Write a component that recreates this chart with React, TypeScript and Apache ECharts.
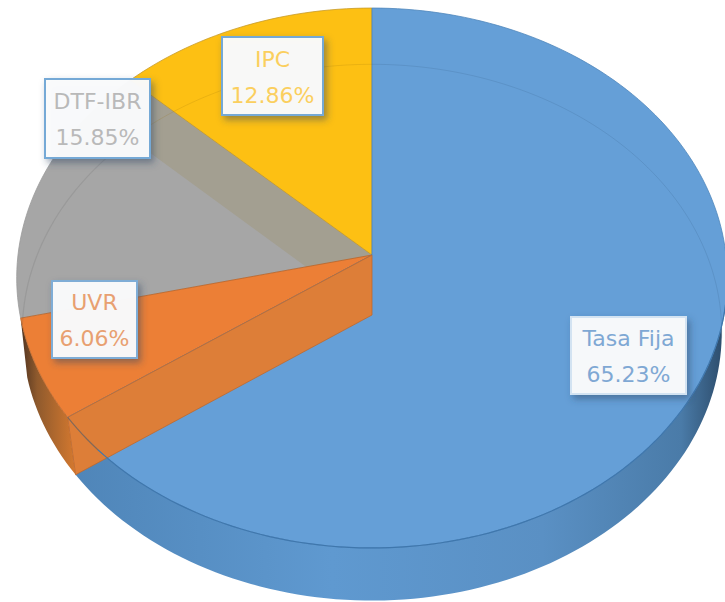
import React, { useEffect, useRef } from "react";
import * as echarts from "echarts";

const categories = ["Tasa Fija", "UVR", "DTF-IBR", "IPC"];
const shares = [65.23, 6.06, 15.85, 12.86];
const faceColors = ["#659fd7", "#ec7f36", "#a6a6a6", "#fdc013"];
const labelColors = ["#7fa8d4", "#e8a071", "#b9b9b9", "#fbcf5e"];
const borderColors = ["#d3e3f2", "#7fadd6", "#74a9d6", "#74a9d6"];
// label box x, y, width, height
const labelBoxes = [
  [571, 317, 115, 77],
  [52, 281, 85, 77],
  [45, 79, 105, 79],
  [222, 37, 101, 78],
];

const TOP = { cx: 372, cy: 255, a: 354, b: 268, k: 0.0852 };
const LOW = { cx: 372, cy: 315, a: 349, b: 267, k: 0.065 };
const total = shares.reduce((s, v) => s + v, 0);

function pt(deg: number, g: typeof TOP): number[] {
  const r = (deg * Math.PI) / 180;
  const u = Math.sin(r);
  const v = -Math.cos(r);
  const w = 1 - g.k * v;
  return [g.cx + (g.a * u) / w, g.cy + (g.b * v) / w];
}
function arc(a0: number, a1: number, g: typeof TOP): number[][] {
  const n = Math.max(2, Math.ceil(Math.abs(a1 - a0) / 1.5));
  const out: number[][] = [];
  for (let i = 0; i <= n; i++) out.push(pt(a0 + ((a1 - a0) * i) / n, g));
  return out;
}
const hGrad = (stops: [number, string][]) =>
  new echarts.graphic.LinearGradient(0, 0, 1, 0, stops.map(([offset, color]) => ({ offset, color })));

function renderSlice(params: any, api: any) {
  const i = params.dataIndex;
  let before = 0;
  for (let j = 0; j < i; j++) before += shares[j];
  const a0 = (before / total) * 360;
  const a1 = ((before + (api.value(0) as number)) / total) * 360;
  const c = [TOP.cx, TOP.cy];
  const lc = [LOW.cx, LOW.cy];
  const poly = (points: number[][], style: any, z2: number) => ({
    type: "polygon",
    z2,
    shape: { points },
    style,
  });
  const line = (points: number[][], stroke: string, lineWidth: number, z2: number) => ({
    type: "polyline",
    z2,
    shape: { points },
    style: { stroke, lineWidth, fill: "none" },
  });
  const children: any[] = [];

  // outer side wall
  const sideFill =
    i === 0
      ? hGrad([
          [0, "#4f85b8"],
          [0.4, "#5f99d0"],
          [0.72, "#5a90c4"],
          [0.93, "#4a7ba8"],
          [1, "#2a4866"],
        ])
      : i === 1
        ? hGrad([
            [0, "#4f3320"],
            [0.3, "#8f5a2d"],
            [1, "#d5792f"],
          ])
        : "#8d8d8d";
  if (i < 2) {
    children.push(poly([...arc(a0 < 90 ? 90 : a0, a1, TOP), ...arc(a1, a0 < 90 ? 90 : a0, LOW)], { fill: sideFill }, 0));
  }

  // top face
  const faceZ = [5, 4, 1, 3][i];
  const outline = i === 3 ? "#c79a2a" : i === 2 ? "#9a9a9a" : i === 1 ? "#b9642a" : "#4f86bb";
  children.push(
    poly([c, ...arc(a0, a1, TOP)], { fill: faceColors[i], stroke: outline, lineWidth: 0.8 }, faceZ),
  );

  // inner walls
  if (i === 2) {
    children.push(poly([c, pt(a1, TOP), pt(a1, LOW), lc], { fill: "#a39f91" }, 2));
  }
  if (i === 1) {
    children.push(poly([c, pt(a0, TOP), pt(a0, LOW), lc], { fill: "#dd7e38", stroke: "#c0682b", lineWidth: 0.8 }, 6));
    children.push(line(arc(a0 - 8, a0, TOP), "rgba(70,90,110,0.6)", 1.2, 7));
  }

  // lower rim showing through
  if (i === 0) {
    children.push(line(arc(0, 95, LOW), "rgba(50,90,130,0.18)", 1, 7));
    children.push(line(arc(95, a1 - 8, TOP), "#3f77ad", 1.2, 7));
  }
  if (i === 2) {
    children.push(line(arc(268, a1, LOW), "rgba(80,80,80,0.14)", 1.2, 7));
  }
  if (i === 3) {
    children.push(line(arc(a0, 360, LOW), "rgba(150,110,10,0.18)", 1, 7));
  }

  // data label
  const [x, y, w, h] = labelBoxes[i];
  children.push({
    type: "rect",
    z2: 20,
    shape: { x, y, width: w, height: h },
    style: {
      fill: "rgba(250,251,252,0.97)",
      stroke: borderColors[i],
      lineWidth: 2,
      shadowBlur: 7,
      shadowOffsetX: 3,
      shadowOffsetY: 4,
      shadowColor: "rgba(45,70,100,0.5)",
    },
  });
  children.push({
    type: "text",
    z2: 21,
    style: {
      x: x + w / 2,
      y: y + h / 2 + 1,
      text: `${categories[i]}\n${(api.value(0) as number).toFixed(2)}%`,
      font: '22px "DejaVu Sans"',
      lineHeight: 36,
      fill: labelColors[i],
      align: "center",
      verticalAlign: "middle",
    },
  });
  return { type: "group", children };
}

export default function App() {
  const ref = useRef<HTMLDivElement>(null);
  useEffect(() => {
    document.body.style.margin = "0";
    const chart = echarts.init(ref.current!, undefined, { renderer: "svg" });
    chart.setOption({
      animation: false,
      backgroundColor: "#ffffff",
      series: [
        {
          type: "custom",
          coordinateSystem: "none",
          renderItem: renderSlice,
          data: shares.map((value, i) => ({ name: categories[i], value: [value] })),
          silent: true,
        },
      ],
    });
    return () => chart.dispose();
  }, []);
  return <div ref={ref} style={{ width: 725, height: 602 }} />;
}
